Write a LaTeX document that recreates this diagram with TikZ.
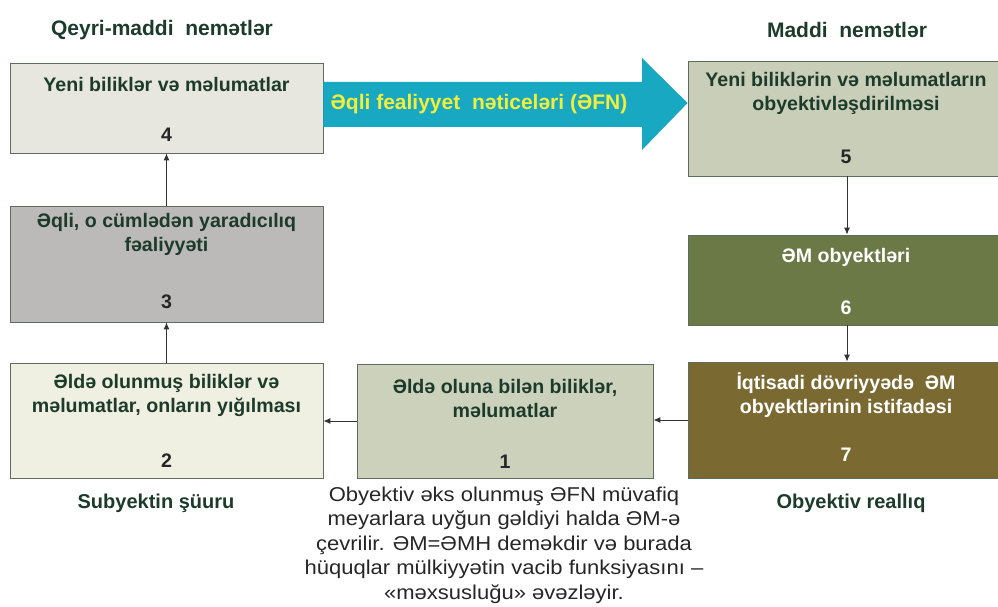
\documentclass[tikz,border=0pt]{standalone}
\usepackage{fontspec}
\setmainfont{Liberation Sans}
\newfontfamily\notefont[FakeStretch=1.1]{Liberation Sans}
\usetikzlibrary{arrows.meta}
\definecolor{TextGreen}{HTML}{1D3B2B}
\definecolor{BoxLine}{HTML}{5E6B5F}
\definecolor{FillOne}{HTML}{CBD1BB}
\definecolor{FillTwo}{HTML}{EFEFE2}
\definecolor{FillThree}{HTML}{BCB9B9}
\definecolor{FillFour}{HTML}{E8E7DF}
\definecolor{FillFive}{HTML}{C9CEB8}
\definecolor{FillSix}{HTML}{6B7947}
\definecolor{FillSeven}{HTML}{7A6A32}
\definecolor{ArrowBlue}{HTML}{19A8C1}
\definecolor{ArrowText}{HTML}{F2EE3A}
\newcommand*{\DrawBoxes}[1]{% #1 = list of name/x1/y1/x2/y2/fill
  \foreach \name/\xa/\ya/\xb/\yb/\col in {#1} {
    \node [draw=BoxLine, fill=\col, line width=0.8pt, inner sep=0pt,
      minimum width={(\xb-\xa)*1pt}, minimum height={(\yb-\ya)*1pt}]
      (\name) at ({(\xa+\xb)/2},{(\ya+\yb)/2}) {};
    }%
}

\begin{document}
\begin{tikzpicture}[x=1pt,y=-1pt,
    boxtext/.style={font=\fontsize{19.6}{24}\selectfont\bfseries, text=TextGreen, align=center, inner sep=0pt},
    num/.style={font=\fontsize{19.6}{24}\selectfont\bfseries, text=black!85, inner sep=0pt},
    heading/.style={font=\fontsize{20}{24}\selectfont\bfseries, text=TextGreen, inner sep=0pt},
    link/.style={draw=black!80, line width=0.9pt, -{Latex[length=7pt,width=6pt]}}]
    \useasboundingbox (0,0) rectangle (998,607);
    \clip (0,0) rectangle (998,607);
    \DrawBoxes{b4/10/63/323/153/FillFour, b3/10/206/323/322/FillThree,
      b2/10/363/323/478/FillTwo, b1/357/364/653/478/FillOne,
      b5/688/61/1006/176/FillFive, b6/688/235/1006/325/FillSix,
      b7/688/362/1006/478/FillSeven}
    % big arrow 4 -> 5
    \fill [ArrowBlue] (b4.east |- 0,82) -- (642,82) -- (642,58) -- (b5.west |- 0,103)
      -- (642,150) -- (642,127) -- (b4.east |- 0,127) -- cycle;
    \node [boxtext, font=\fontsize{21}{24}\selectfont\bfseries, text=ArrowText] (ofn)
      at (479,104) {Əqli fealiyyet\ \ nəticeləri (ƏFN)};
    % headings
    \node [heading, font=\fontsize{21}{24}\selectfont\bfseries] (hleft) at (162,30) {Qeyri-maddi\ \ nemətlər};
    \node [heading, font=\fontsize{21}{24}\selectfont\bfseries] (hright) at (847,30) {Maddi\ \ nemətlər};
    \node [heading] (sleft) at (156,503) {Subyektin şüuru};
    \node [heading] (sright) at (851,503) {Obyektiv reallıq};
    % box texts
    \node [boxtext] (t4) at (166.5,84) {Yeni biliklər və məlumatlar};
    \node [num] (n4) at (166.5,135) {4};
    \node [boxtext] (t5) at (846,93) {Yeni biliklərin və məlumatların\\obyektivləşdirilməsi};
    \node [num] (n5) at (846,157) {5};
    \node [boxtext] (t3) at (166.5,234) {Əqli, o cümlədən yaradıcılıq\\fəaliyyəti};
    \node [num] (n3) at (166.5,302) {3};
    \node [boxtext] (t2) at (166.5,395) {Əldə olunmuş biliklər və\\məlumatlar, onların yığılması};
    \node [num] (n2) at (166.5,461) {2};
    \node [boxtext] (t1) at (505,398) {Əldə oluna bilən biliklər,\\məlumatlar};
    \node [num] (n1) at (505,462) {1};
    \node [boxtext, text=white] (t6) at (846,257) {ƏM obyektləri};
    \node [num, text=white] (n6) at (846,308) {6};
    \node [boxtext, text=white] (t7) at (846,395) {İqtisadi dövriyyədə\ \ ƏM\\obyektlərinin istifadəsi};
    \node [num, text=white] (n7) at (846,455) {7};
    % note under box 1
    \node [font=\notefont\fontsize{20}{24.5}\selectfont, text=black!85, align=center, inner sep=0pt]
      (note) at (504,545) {Obyektiv əks olunmuş ƏFN müvafiq\\meyarlara uyğun gəldiyi halda ƏM-ə\\çevrilir. ƏM=ƏMH deməkdir və burada\\hüquqlar mülkiyyətin vacib funksiyasını –\\«məxsusluğu» əvəzləyir.};
    % connectors
    \draw [link] (b5) -- (b6);
    \draw [link] (b6) -- (b7);
    \draw [link] (b7.west) -- (b7.west -| b1.east);
    \draw [link] (b1.west) -- (b1.west -| b2.east);
    \draw [link] (b2) -- (b3);
    \draw [link] (b3) -- (b4);
\end{tikzpicture}
\end{document}
